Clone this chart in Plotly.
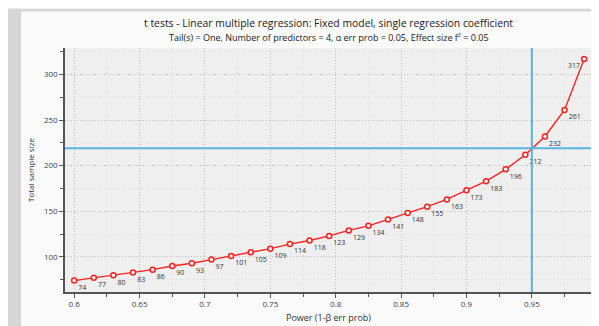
import plotly.graph_objects as go

power = [0.600, 0.615, 0.630, 0.645, 0.660, 0.675, 0.690, 0.705, 0.720, 0.735,
         0.750, 0.765, 0.780, 0.795, 0.810, 0.825, 0.840, 0.855, 0.870, 0.885,
         0.900, 0.915, 0.930, 0.945, 0.960, 0.975, 0.990]
sample_size = [74, 77, 80, 83, 86, 90, 93, 97, 101, 105, 109, 114, 118, 123, 129,
               134, 141, 148, 155, 163, 173, 183, 196, 212, 232, 261, 317]
target_power = 0.95
target_n = 219

title_text = "t tests - Linear multiple regression: Fixed model, single regression coefficient"
subtitle_text = "Tail(s) = One, Number of predictors = 4, α err prob = 0.05, Effect size f² = 0.05"

FONT = "Open Sans"
positions = ["bottom right"] * (len(power) - 1) + ["bottom left"]

fig = go.Figure()
fig.add_trace(go.Scatter(
    x=power, y=sample_size, mode="lines+markers+text",
    line=dict(color="#ff2020", width=1.4),
    marker=dict(symbol="circle", size=5, color="white",
                line=dict(color="#ff2020", width=1.5)),
    text=[str(v) for v in sample_size], textposition=positions,
    textfont=dict(family=FONT, size=7, color="#333333"),
    cliponaxis=False, showlegend=False,
))

W, H = 599, 326
L, R, T, B = 57, 15, 40, 38

grid = dict(showgrid=True, gridcolor="#bdbdbd", gridwidth=1, griddash="1px,2px",
            showline=True, linecolor="#555555", linewidth=1.5,
            ticks="outside", ticklen=4, tickcolor="#555555", tickwidth=1,
            tickfont=dict(family=FONT, size=8, color="#444444"),
            zeroline=False)
minor = dict(showgrid=True, gridcolor="#dedede", griddash="1px,2px",
             ticks="outside", ticklen=3, tickcolor="#555555", tickwidth=1)

fig.update_layout(
    width=W, height=H,
    margin=dict(l=L, r=R, t=T, b=B),
    paper_bgcolor="#fafafa", plot_bgcolor="#efefef",
    xaxis=dict(range=[0.593, 0.996], dtick=0.05, tick0=0.6,
               minor=dict(dtick=0.025, **minor),
               title=dict(text="Power (1-β err prob)", standoff=6,
                          font=dict(family=FONT, size=9, color="#333333")),
               **grid),
    yaxis=dict(range=[61.5, 329], dtick=50, tick0=0,
               minor=dict(dtick=25, **minor),
               title=dict(text="Total sample size", standoff=8,
                          font=dict(family=FONT, size=8, color="#333333")),
               **grid),
    annotations=[
        dict(text=title_text, xref="paper", yref="paper", x=0.5, y=1,
             yshift=25, xanchor="center", yanchor="middle", showarrow=False,
             font=dict(family=FONT, size=10.4, color="#222222")),
        dict(text=subtitle_text, xref="paper", yref="paper", x=0.5, y=1,
             yshift=11, xanchor="center", yanchor="middle", showarrow=False,
             font=dict(family=FONT, size=9, color="#222222")),
    ],
)

# reference lines
fig.add_shape(type="line", xref="paper", yref="y", x0=0, x1=1, y0=target_n, y1=target_n,
              line=dict(color="#5bb3e0", width=2))
fig.add_shape(type="line", xref="x", yref="paper", x0=target_power, x1=target_power, y0=0, y1=1,
              line=dict(color="#5bb3e0", width=2))

# outer grey frame (left, top, bottom strips)
pw = W - L - R
ph = H - T - B
def px_x(p):
    return (p - L) / pw
def px_y(p):
    return (H - B - p) / ph
frame = "#d6d6d6"
for x0, x1, y0, y1 in [(0, 13, 0, H), (0, W, 0, 3), (0, W, 323, H)]:
    fig.add_shape(type="rect", xref="paper", yref="paper", layer="below",
                  x0=px_x(x0), x1=px_x(x1), y0=px_y(y1), y1=px_y(y0),
                  fillcolor=frame, line=dict(width=0))

fig.write_html("out.html")
